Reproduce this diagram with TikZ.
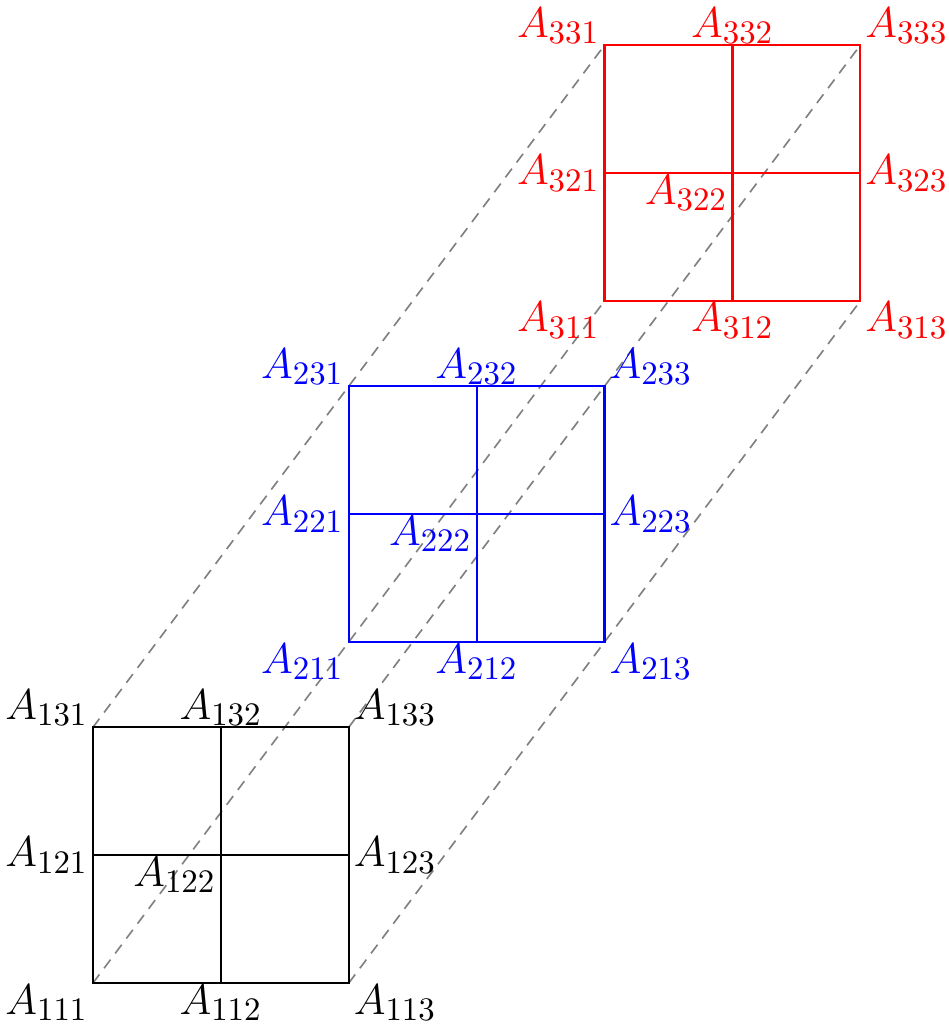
\documentclass[tikz,border=0pt]{standalone}
\usepackage{amsmath,amssymb}
\usepackage{tikz}
\usetikzlibrary{backgrounds}

\begin{document}
\begin{tikzpicture}[font=\fontsize{15.3}{18}\selectfont]
\tikzset{grid/.style={line width=0.75pt}, guide/.style={draw=gray,dash pattern=on 3.6pt off 2.6pt,line width=0.55pt}, lab/.style={inner xsep=1.5pt,inner ysep=0.3pt}}
\useasboundingbox (-1.09,-0.55) rectangle (10.03,11.53);
\foreach \k/\col in {1/black,2/blue,3/red} {
\begin{scope}[shift={({3*(\k-1)},{4*(\k-1)})},\col]
\coordinate (p\k11) at (0,0);   \coordinate (p\k12) at (1.5,0);   \coordinate (p\k13) at (3,0);
\coordinate (p\k21) at (0,1.5); \coordinate (p\k22) at (1.5,1.5); \coordinate (p\k23) at (3,1.5);
\coordinate (p\k31) at (0,3);   \coordinate (p\k32) at (1.5,3);   \coordinate (p\k33) at (3,3);
\draw[grid] (p\k11) rectangle (p\k33);
\draw[grid] (p\k12)--(p\k32);
\draw[grid] (p\k21)--(p\k23);
\node[lab,below left] (a\k11) at (p\k11) {$A_{\k11}$};
\node[lab,below] (a\k12) at (p\k12) {$A_{\k12}$};
\node[lab,below right] (a\k13) at (p\k13) {$A_{\k13}$};
\node[lab,left] (a\k21) at (p\k21) {$A_{\k21}$};
\node[lab,below left] (a\k22) at (p\k22) {$A_{\k22}$};
\node[lab,right] (a\k23) at (p\k23) {$A_{\k23}$};
\node[lab,above left] (a\k31) at (p\k31) {$A_{\k31}$};
\node[lab,above] (a\k32) at (p\k32) {$A_{\k32}$};
\node[lab,above right] (a\k33) at (p\k33) {$A_{\k33}$};
\end{scope}
}
% dashed guides through the corners
\begin{scope}[on background layer]
\draw[guide] (p111)--(p311);
\draw[guide] (p113)--(p313);
\draw[guide] (p131)--(p331);
\draw[guide] (p133)--(p333);
\end{scope}
\end{tikzpicture}
\end{document}
